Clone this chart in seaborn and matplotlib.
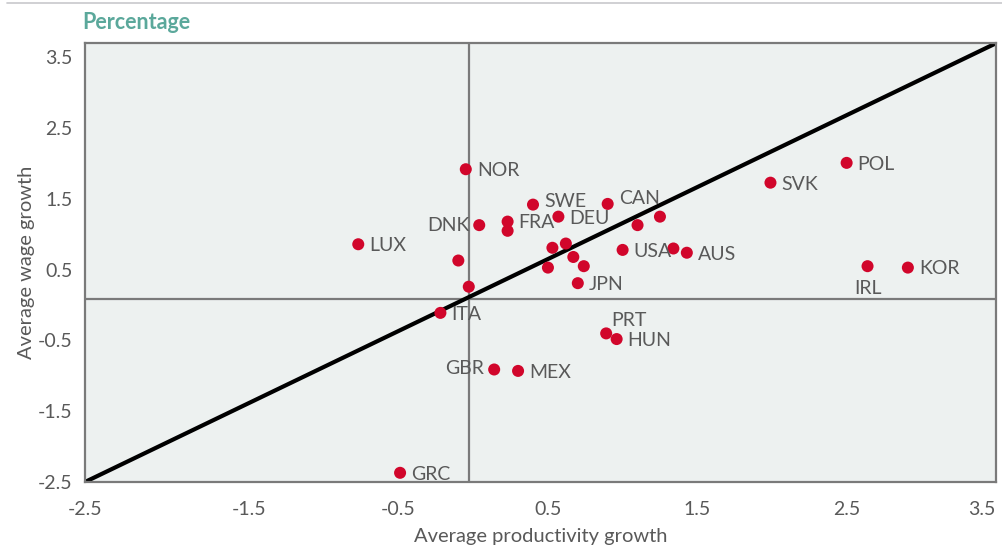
import matplotlib.pyplot as plt
import seaborn as sns
import pandas as pd

# ---------------- DATA ---------------- #
countries = ["NOR", "SWE", "CAN", "DNK", "FRA", "", "DEU", "", "",
             "", "", "", "", "", "JPN", "USA", "", "AUS", "", "",
             "ITA", "LUX", "PRT", "HUN", "GBR", "MEX", "POL", "SVK",
             "IRL", "KOR", "GRC"]
productivity = [-0.05, 0.40, 0.90, 0.04, 0.23, 0.23, 0.57, 1.10, 1.25,
                0.53, 0.62, 0.67, 0.74, 0.50, 0.70, 1.00, 1.34, 1.43, -0.10, -0.03,
                -0.22, -0.77, 0.89, 0.96, 0.14, 0.30, 2.50, 1.99,
                2.64, 2.91, -0.49]
wages = [1.92, 1.42, 1.43, 1.13, 1.18, 1.05, 1.25, 1.13, 1.25,
         0.81, 0.87, 0.68, 0.55, 0.53, 0.31, 0.78, 0.80, 0.74, 0.63, 0.26,
         -0.11, 0.86, -0.40, -0.48, -0.91, -0.93, 2.01, 1.73,
         0.55, 0.53, -2.37]

# trend line end points and reference lines
trend_x = [-2.6, 3.5]
trend_y = [-2.5, 3.7]
mean_x = -0.03
mean_y = 0.08

xticks = [-2.6, -1.5, -0.5, 0.5, 1.5, 2.5, 3.5]
xticklabels = ["-2.5", "-1.5", "-0.5", "0.5", "1.5", "2.5", "3.5"]
yticks = [-2.5, -1.5, -0.5, 0.5, 1.5, 2.5, 3.5]

# label offsets in points (dx, dy, ha, va)
offsets = {
    "DNK": (-7, 0, "right", "center"),
    "GBR": (-7, 1, "right", "center"),
    "IRL": (0, -10, "center", "top"),
    "PRT": (4, 9, "left", "center"),
    "SWE": (8, 2, "left", "center"),
    "CAN": (8, 4, "left", "center"),
}

df = pd.DataFrame({"country": countries, "productivity": productivity, "wages": wages})

# ---------------- PLOT ---------------- #
sns.set_style("white")
plt.rcParams['font.family'] = ['Lato', 'DejaVu Sans']
plt.rcParams['axes.unicode_minus'] = False
grey = "#595959"
axis_grey = "#7a7a7a"

fig = plt.figure(figsize=(10.03, 5.52), dpi=100)
ax = fig.add_axes([0.0847, 0.1268, 0.9083, 0.7948])
ax.set_facecolor("#edf1f0")

ax.axvline(mean_x, color=axis_grey, lw=1.6, zorder=1)
ax.axhline(mean_y, color=axis_grey, lw=1.6, zorder=1)
sns.lineplot(x=trend_x, y=trend_y, color="black", lw=3, ax=ax, zorder=2)
sns.scatterplot(data=df, x="productivity", y="wages", color="#d1062b",
                s=75, edgecolor="none", ax=ax, zorder=3)

for c, xv, yv in zip(countries, productivity, wages):
    if not c:
        continue
    dx, dy, ha, va = offsets.get(c, (8, -1, "left", "center"))
    ax.annotate(c, (xv, yv), xytext=(dx, dy), textcoords="offset points",
                ha=ha, va=va, fontsize=14, color=grey)

ax.set_xlim(-2.6, 3.5)
ax.set_ylim(-2.5, 3.7)
ax.set_xticks(xticks)
ax.set_xticklabels(xticklabels)
ax.set_yticks(yticks)
ax.tick_params(axis="both", direction="out", length=6, width=1.2,
               color=axis_grey, labelcolor=grey, labelsize=14)
ax.tick_params(axis="x", pad=8)
ax.tick_params(axis="y", pad=3)
ax.get_xticklabels()[-1].set_ha("right")
ax.get_xticklabels()[-1].set_x(3.5)
for sp in ax.spines.values():
    sp.set_color(axis_grey)
    sp.set_linewidth(1.6)

ax.set_xlabel("Average productivity growth", fontsize=14.5, color=grey, labelpad=7)
ax.set_ylabel("Average wage growth", fontsize=14.5, color=grey, labelpad=2)

fig.text(0.082, 0.96, "Percentage", fontsize=15.5, fontweight="bold",
         color="#5ba89b", va="center", ha="left")
fig.add_artist(plt.Line2D([0.007, 1.0], [0.995, 0.995], color="#c8c8cc", lw=1.2))

plt.savefig("out.png", dpi=100)
